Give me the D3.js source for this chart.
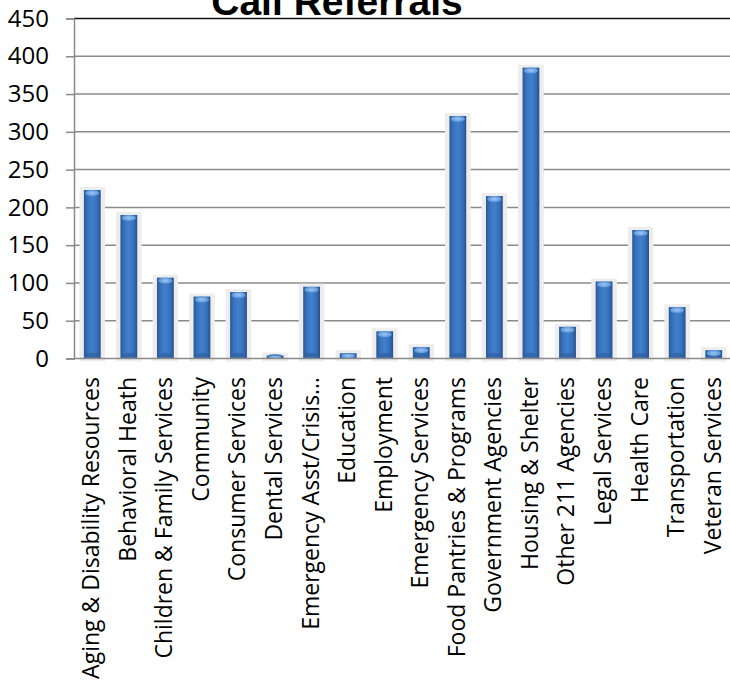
<!DOCTYPE html>
<html>
<head>
<meta charset="utf-8">
<script src="https://cdn.jsdelivr.net/npm/d3@7"></script>
<style>
  body { margin: 0; background: #fff; }
  svg { display: block; }
</style>
</head>
<body>
<svg id="chart" width="730" height="682"></svg>
<script>
// chart data
var categories = [
    "Aging & Disability Resources", "Behavioral Heath", "Children & Family Services",
    "Community", "Consumer Services", "Dental Services", "Emergency Asst/Crisis\u2026",
    "Education", "Employment", "Emergency Services", "Food Pantries & Programs",
    "Government Agencies", "Housing & Shelter", "Other 211 Agencies", "Legal Services",
    "Health Care", "Transportation", "Veteran Services"
];
var referrals = [223, 190, 107, 82, 88, 4, 95, 7, 36, 15, 321, 215, 385, 42, 102, 170, 68, 11];
var yTicks = [0, 50, 100, 150, 200, 250, 300, 350, 400, 450];
var chartTitle = "Call Referrals";

var svg = d3.select("#chart");

var x = d3.scaleBand()
    .domain(categories)
    .range([74, 732])
    .paddingInner(0)
    .paddingOuter(0);

var y = d3.scaleLinear()
    .domain([0, 450])
    .range([358.5, 18.5]);

/* Gradients for the cylinder look */
var defs = svg.append("defs");
var barGrad = defs.append("linearGradient").attr("id", "barGrad")
    .attr("x1", "0%").attr("x2", "100%").attr("y1", "0%").attr("y2", "0%");
barGrad.append("stop").attr("offset", "0%").attr("stop-color", "#2a5995");
barGrad.append("stop").attr("offset", "25%").attr("stop-color", "#3a74c0");
barGrad.append("stop").attr("offset", "50%").attr("stop-color", "#4080cc");
barGrad.append("stop").attr("offset", "78%").attr("stop-color", "#3870ba");
barGrad.append("stop").attr("offset", "100%").attr("stop-color", "#25508c");

var capGrad = defs.append("radialGradient").attr("id", "capGrad");
capGrad.append("stop").attr("offset", "0%").attr("stop-color", "#9cc8f5");
capGrad.append("stop").attr("offset", "100%").attr("stop-color", "#5a93d8");

/* Gridlines */
svg.append("g")
    .selectAll("line")
    .data(yTicks.filter(function (d) { return d > 0 && d < 450; }))
    .enter().append("line")
    .attr("x1", 74).attr("x2", 730)
    .attr("y1", function (d) { return y(d); })
    .attr("y2", function (d) { return y(d); })
    .attr("stroke", "#8a8a8a")
    .attr("stroke-width", 1.5);

// top border of plot area
svg.append("line")
    .attr("x1", 74).attr("x2", 730)
    .attr("y1", y(450)).attr("y2", y(450))
    .attr("stroke", "#111")
    .attr("stroke-width", 1.5);

/* Bars */
var bw = x.bandwidth() * 0.46;
var sw = x.bandwidth() * 0.70;

var bars = svg.append("g").selectAll("g")
    .data(categories)
    .enter().append("g");

// soft shadow behind each bar
bars.append("rect")
    .attr("x", function (d) { return x(d) + (x.bandwidth() - sw) / 2; })
    .attr("y", function (d, i) { return y(referrals[i]) - 3; })
    .attr("width", sw)
    .attr("height", function (d, i) { return y(0) - y(referrals[i]) + 6; })
    .attr("fill", "#ededed");

bars.append("rect")
    .attr("x", function (d) { return x(d) + (x.bandwidth() - bw) / 2; })
    .attr("y", function (d, i) { return y(referrals[i]); })
    .attr("width", bw)
    .attr("height", function (d, i) { return y(0) - y(referrals[i]); })
    .attr("fill", "url(#barGrad)");

// darker base
bars.append("ellipse")
    .attr("cx", function (d) { return x(d) + x.bandwidth() / 2; })
    .attr("cy", function (d, i) { return y(0) - 3; })
    .attr("rx", bw * 0.4)
    .attr("ry", function (d, i) { return Math.min(2.5, (y(0) - y(referrals[i])) / 2); })
    .attr("fill", "#2f5f9e")
    .attr("opacity", 0.7);

// light top cap
bars.append("ellipse")
    .attr("cx", function (d) { return x(d) + x.bandwidth() / 2; })
    .attr("cy", function (d, i) { return y(referrals[i]) + Math.min(3, (y(0) - y(referrals[i])) / 2); })
    .attr("rx", bw * 0.42)
    .attr("ry", function (d, i) { return Math.min(3, (y(0) - y(referrals[i])) / 2); })
    .attr("fill", "url(#capGrad)");

/* Axes */
var yAxis = svg.append("g")
    .attr("transform", "translate(74,0)")
    .call(d3.axisLeft(y).tickValues(yTicks).tickSize(8).tickPadding(17));
yAxis.select(".domain").attr("stroke", "#8a8a8a").attr("stroke-width", 1.5);
yAxis.selectAll(".tick line").attr("stroke", "#8a8a8a").attr("stroke-width", 1.5);
yAxis.selectAll("text")
    .attr("font-family", "Open Sans")
    .attr("font-size", "24px")
    .attr("fill", "#000");

// x axis baseline
svg.append("line")
    .attr("x1", 74).attr("x2", 730)
    .attr("y1", y(0)).attr("y2", y(0))
    .attr("stroke", "#8a8a8a")
    .attr("stroke-width", 1.5);

// category labels, rotated
svg.append("g").selectAll("text")
    .data(categories)
    .enter().append("text")
    .attr("transform", function (d) {
        return "translate(" + (x(d) + x.bandwidth() / 2) + ",377) rotate(-90)";
    })
    .attr("text-anchor", "end")
    .attr("dy", "0.3em")
    .attr("font-family", "Open Sans")
    .attr("font-size", "23px")
    .attr("fill", "#000")
    .text(function (d) { return d; });

/* Title (cut off at the top, as in the picture) */
svg.append("text")
    .attr("x", 337)
    .attr("y", 15)
    .attr("text-anchor", "middle")
    .attr("font-family", "Liberation Sans")
    .attr("font-weight", "bold")
    .attr("font-size", "39px")
    .attr("fill", "#000")
    .text(chartTitle);
</script>
</body>
</html>
